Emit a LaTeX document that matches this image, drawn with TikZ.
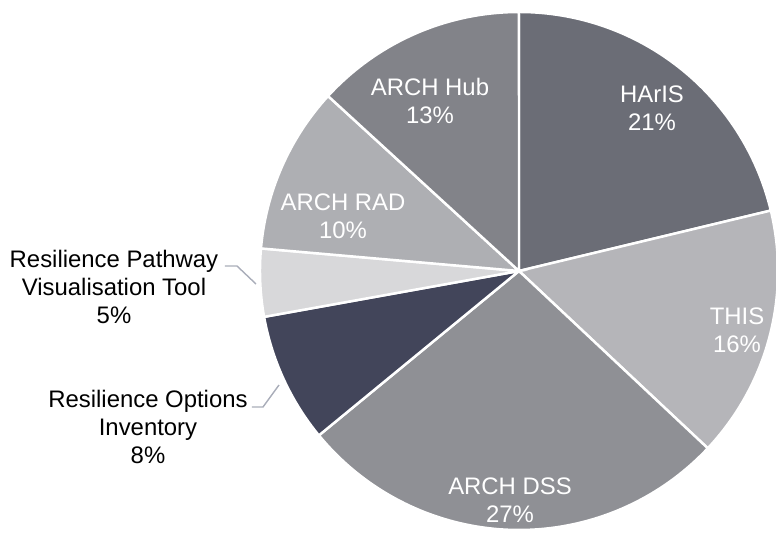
\documentclass[tikz,border=0pt]{standalone}
\usepackage{fontspec}
\setmainfont{Liberation Sans}
\definecolor{harisgray}{HTML}{6B6D76}
\definecolor{thisgray}{HTML}{B5B5B9}
\definecolor{dssgray}{HTML}{8F9095}
\definecolor{roinavy}{HTML}{42455A}
\definecolor{rpvtgray}{HTML}{D8D8DA}
\definecolor{radgray}{HTML}{AEAFB3}
\definecolor{hubgray}{HTML}{828389}
\definecolor{leadgray}{HTML}{A9ADB9}

\begin{document}
\begin{tikzpicture}[x=0.02cm,y=0.02cm,
  slice/.style={draw=white,line width=1.4pt},
  inlabel/.style={text=white,align=center,inner sep=0pt,font=\fontsize{13.6}{15.9}\selectfont},
  outlabel/.style={text=black,align=center,inner sep=0pt,font=\fontsize{13.6}{15.9}\selectfont},
  leader/.style={draw=leadgray,line width=0.8pt}]
\useasboundingbox (-519,-263) rectangle (257,271);

\fill[harisgray,slice] (0,0) -- (90:259) arc[start angle=90,end angle=13.5,radius=5.18cm] -- cycle;
\fill[thisgray,slice] (0,0) -- (13.5:259) arc[start angle=13.5,end angle=-43.2,radius=5.18cm] -- cycle;
\fill[dssgray,slice] (0,0) -- (-43.2:259) arc[start angle=-43.2,end angle=-140.6,radius=5.18cm] -- cycle;
\fill[roinavy,slice] (0,0) -- (-140.6:259) arc[start angle=-140.6,end angle=-169.8,radius=5.18cm] -- cycle;
\fill[rpvtgray,slice] (0,0) -- (-169.8:259) arc[start angle=-169.8,end angle=-185,radius=5.18cm] -- cycle;
\fill[radgray,slice] (0,0) -- (-185:259) arc[start angle=-185,end angle=-222.5,radius=5.18cm] -- cycle;
\fill[hubgray,slice] (0,0) -- (-222.5:259) arc[start angle=-222.5,end angle=-270,radius=5.18cm] -- cycle;

\node[inlabel] (haris) at (133,162.5) {HArIS\\21\%};
\node[inlabel] (this) at (218,-59) {THIS\\16\%};
\node[inlabel] (dss) at (-9,-229.5) {ARCH DSS\\27\%};
\node[inlabel] (rad) at (-176,55) {ARCH RAD\\10\%};
\node[inlabel] (hub) at (-89,170) {ARCH Hub\\13\%};

\node[outlabel] (rpvt) at (-405,-16) {Resilience Pathway\\Visualisation Tool\\5\%};
\node[outlabel] (roi) at (-371,-156) {Resilience Options\\Inventory\\8\%};

\coordinate (rpvt-a) at (-294,5);
\coordinate (rpvt-b) at (-263,-13);
\coordinate (roi-a) at (-267,-136);
\coordinate (roi-b) at (-240,-114);
\draw[leader] (rpvt-a) -- ++(12,0) -- (rpvt-b);
\draw[leader] (roi-a) -- ++(11,0) -- (roi-b);
\end{tikzpicture}
\end{document}
